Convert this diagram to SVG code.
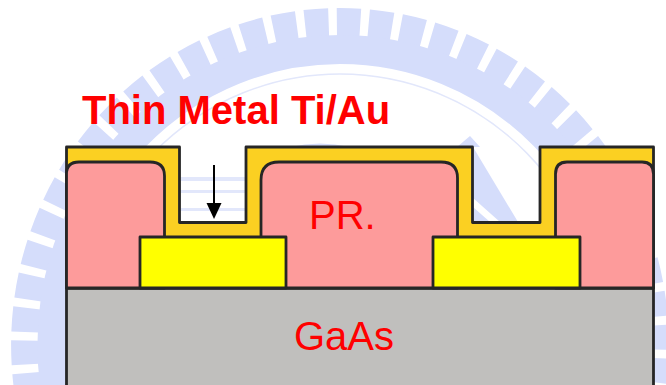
<svg xmlns="http://www.w3.org/2000/svg" width="666" height="385" viewBox="0 0 666 385">
<style>
.ln{stroke:#262626;stroke-width:2.8;stroke-linejoin:round}
.wm{fill:#d5ddfb}
.wl{fill:#e2e7fb}
.lb{font-family:"Liberation Sans",Arial,sans-serif;fill:#ff0000}
</style>
<rect width="666" height="385" fill="#ffffff"/>
<g id="watermark">
<g transform="translate(340 345) scale(.976 1)" fill="none" stroke="#d5ddfb">
<circle r="323" stroke-width="28" pathLength="6200" stroke-dasharray="74 26" stroke-dashoffset="60"/>
<circle r="295.500" stroke-width="29"/>
<circle r="271" stroke-width="1.500" stroke="#e2e7fb"/>
</g>
<path class="wm" d="M473 147L518 222H473Z"/>
<path d="M473 198L500 222H490L473 207Z" fill="#fff"/>
<path class="wm" d="M457 147L470 136L480 147Z"/>
<path class="wm" d="M290 147Q320 140 350 147Z"/>
<rect class="wl" x="181" y="177" width="64" height="4"/>
<rect class="wl" x="181" y="190" width="64" height="3"/>
<rect class="wl" x="181" y="208" width="64" height="3"/>
</g>
<g id="gaas"><rect class="ln" x="66.500" y="288" width="587" height="110" fill="#c0bfbd"/></g>
<g id="metal"><path class="ln" fill="#fbd022" d="M66.500 147H179.500V222.500H246V147H472.500V222.500H540V147H653.500V288H66.500Z"/></g>
<g id="pr-left"><path class="ln" fill="#fd9b9b" d="M66.500 288V174Q66.500 162 79 162H150Q164.500 162 164.500 176V288Z"/></g>
<g id="pr-center"><path class="ln" fill="#fd9b9b" d="M261 288V180Q261 162 279 162H441Q457.500 162 457.500 178V288Z"/></g>
<g id="pr-right"><path class="ln" fill="#fd9b9b" d="M555.500 288V174Q555.500 162 567 162H642Q653.500 162 653.500 174V288Z"/></g>
<g id="pad-left"><rect class="ln" x="140" y="237" width="146" height="51" fill="#ffff00"/></g>
<g id="pad-right"><rect class="ln" x="433" y="237" width="147" height="51" fill="#ffff00"/></g>
<g id="connectors">
<path d="M214 165V204" stroke="#000" stroke-width="2" fill="none"/>
<path d="M206.500 203H221.500L214 219Z" fill="#000"/>
</g>
<g id="title"><text class="lb" x="82" y="124" font-size="40" font-weight="700">Thin Metal Ti/Au</text></g>
<g id="label-pr"><text class="lb" x="309" y="229" font-size="40">PR.</text></g>
<g id="label-gaas"><text class="lb" x="294" y="350" font-size="40">GaAs</text></g>
</svg>
